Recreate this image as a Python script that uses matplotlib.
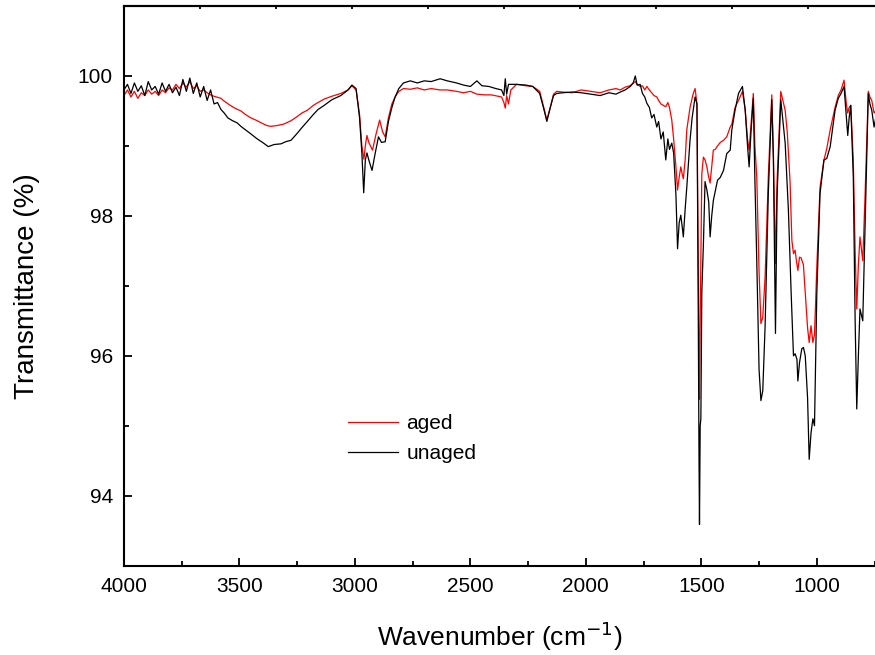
import matplotlib
matplotlib.use("Agg")
import matplotlib.pyplot as plt
from matplotlib.ticker import MultipleLocator

plt.rcParams['font.family'] = ['Liberation Sans', 'DejaVu Sans']

# ---------------- data ----------------
unaged_wn = [4000, 3985, 3970, 3955, 3940, 3925, 3910, 3895, 3880, 3865, 3850, 3835, 3820, 3805,
             3790, 3775, 3760, 3745, 3730, 3715, 3700, 3685, 3670, 3655, 3640, 3625, 3610, 3595,
             3580, 3566, 3550, 3530, 3510, 3494, 3470, 3450, 3423, 3400, 3375, 3350, 3320, 3300,
             3277, 3250, 3230, 3206, 3180, 3160, 3133, 3100, 3061, 3030, 3013, 2995, 2980, 2970,
             2962, 2955, 2948, 2940, 2926, 2912, 2898, 2885, 2869, 2855, 2840, 2826, 2810, 2790,
             2760, 2730, 2700, 2670, 2631, 2600, 2560, 2530, 2500, 2472, 2450, 2420, 2390, 2365,
             2355, 2349, 2343, 2335, 2300, 2260, 2230, 2200, 2180, 2169, 2158, 2140, 2126, 2100,
             2060, 2020, 1980, 1938, 1900, 1870, 1851, 1830, 1808, 1795, 1786, 1778, 1765, 1755,
             1745, 1736, 1725, 1715, 1705, 1693, 1685, 1675, 1665, 1654, 1645, 1638, 1628, 1620,
             1610, 1603, 1596, 1589, 1583, 1578, 1570, 1563, 1555, 1549, 1540, 1527, 1519, 1514,
             1510, 1508, 1505, 1502, 1498, 1491, 1484, 1476, 1468, 1462, 1455, 1448, 1440, 1430,
             1418, 1404, 1390, 1375, 1368, 1354, 1339, 1322, 1310, 1300, 1293, 1285, 1275, 1268,
             1260, 1250, 1242, 1234, 1224, 1210, 1195, 1188, 1179, 1172, 1156, 1137, 1123, 1111,
             1101, 1094, 1086, 1082, 1075, 1065, 1058, 1050, 1040, 1033, 1025, 1017, 1010, 1000,
             986, 969, 957, 942, 921, 907, 895, 882, 872, 866, 860, 853, 842, 834, 827, 820, 813,
             801, 791, 777, 770, 762, 752, 745]
unaged_T = [99.80, 99.88, 99.75, 99.90, 99.78, 99.86, 99.72, 99.92, 99.80, 99.85, 99.74, 99.90, 99.78, 99.88,
            99.76, 99.84, 99.72, 99.95, 99.78, 99.97, 99.75, 99.90, 99.70, 99.85, 99.65, 99.80, 99.60, 99.62,
            99.52, 99.47, 99.40, 99.36, 99.33, 99.28, 99.22, 99.17, 99.10, 99.05, 98.99, 99.02, 99.03, 99.06,
            99.08, 99.18, 99.26, 99.35, 99.45, 99.52, 99.58, 99.66, 99.72, 99.80, 99.87, 99.82, 99.40, 98.90,
            98.33, 98.80, 98.90, 98.80, 98.65, 98.90, 99.13, 99.05, 99.06, 99.35, 99.55, 99.70, 99.82, 99.90,
            99.93, 99.90, 99.93, 99.92, 99.96, 99.93, 99.90, 99.87, 99.85, 99.93, 99.86, 99.85, 99.82, 99.80,
            99.72, 99.96, 99.74, 99.88, 99.88, 99.87, 99.85, 99.75, 99.50, 99.35, 99.50, 99.72, 99.75, 99.76,
            99.77, 99.76, 99.74, 99.72, 99.76, 99.74, 99.77, 99.80, 99.85, 99.90, 100.0, 99.87, 99.88, 99.75,
            99.70, 99.61, 99.55, 99.40, 99.45, 99.27, 99.35, 99.10, 99.20, 98.80, 99.10, 98.95, 99.04, 98.90,
            98.30, 97.53, 97.90, 98.01, 97.85, 97.70, 98.10, 98.41, 98.80, 99.08, 99.40, 99.70, 99.60, 97.00,
            94.50, 93.59, 95.00, 95.10, 96.90, 97.60, 98.49, 98.37, 98.20, 97.70, 98.00, 98.22, 98.35, 98.51,
            98.55, 98.65, 98.89, 98.94, 99.23, 99.51, 99.75, 99.85, 99.51, 99.00, 98.70, 99.20, 99.68, 98.50,
            97.36, 95.80, 95.36, 95.50, 96.41, 98.32, 99.66, 98.80, 96.32, 98.30, 99.66, 99.04, 98.08, 96.89,
            96.00, 96.03, 95.95, 95.64, 95.90, 96.10, 96.12, 96.00, 95.40, 94.52, 94.90, 95.10, 95.00, 96.89,
            98.32, 98.80, 98.82, 98.99, 99.51, 99.68, 99.75, 99.85, 99.40, 99.15, 99.40, 99.58, 98.56, 96.50,
            95.24, 96.00, 96.67, 96.50, 97.84, 99.75, 99.60, 99.51, 99.27, 99.40]

aged_wn = [4000, 3985, 3970, 3955, 3940, 3925, 3910, 3895, 3880, 3865, 3850, 3835, 3820, 3805,
           3790, 3775, 3760, 3745, 3730, 3715, 3700, 3685, 3670, 3655, 3640, 3620, 3600, 3580,
           3566, 3540, 3520, 3494, 3470, 3450, 3423, 3400, 3380, 3364, 3340, 3310, 3277, 3250,
           3230, 3206, 3180, 3160, 3133, 3100, 3061, 3030, 3013, 2995, 2980, 2970, 2961, 2955,
           2948, 2940, 2924, 2910, 2893, 2880, 2869, 2855, 2840, 2826, 2810, 2790, 2760, 2730,
           2700, 2670, 2631, 2600, 2560, 2530, 2500, 2472, 2440, 2410, 2380, 2365, 2355, 2349,
           2343, 2335, 2325, 2300, 2260, 2230, 2200, 2180, 2169, 2158, 2140, 2126, 2100, 2060,
           2020, 1980, 1938, 1900, 1870, 1851, 1830, 1808, 1795, 1786, 1778, 1765, 1755, 1745,
           1736, 1725, 1715, 1705, 1693, 1685, 1675, 1665, 1654, 1645, 1638, 1628, 1620, 1610,
           1603, 1596, 1589, 1583, 1578, 1570, 1563, 1549, 1535, 1527, 1519, 1514, 1510, 1508,
           1505, 1498, 1491, 1484, 1476, 1468, 1462, 1455, 1448, 1440, 1430, 1418, 1404, 1390,
           1375, 1368, 1354, 1339, 1322, 1310, 1300, 1293, 1285, 1275, 1268, 1260, 1250, 1242,
           1234, 1224, 1210, 1195, 1188, 1179, 1172, 1156, 1137, 1128, 1116, 1108, 1101, 1094,
           1088, 1082, 1075, 1068, 1058, 1050, 1040, 1033, 1025, 1017, 1010, 1000, 986, 969,
           957, 942, 921, 907, 895, 882, 872, 866, 860, 853, 842, 834, 827, 820, 813, 801, 791,
           777, 770, 762, 752, 745]
aged_T = [99.72, 99.80, 99.70, 99.78, 99.68, 99.76, 99.72, 99.80, 99.74, 99.78, 99.72, 99.80, 99.76, 99.83,
          99.80, 99.88, 99.82, 99.90, 99.84, 99.92, 99.82, 99.86, 99.78, 99.80, 99.76, 99.72, 99.70, 99.68,
          99.64, 99.58, 99.54, 99.50, 99.44, 99.40, 99.36, 99.32, 99.29, 99.28, 99.29, 99.31, 99.36, 99.42,
          99.47, 99.51, 99.58, 99.62, 99.67, 99.71, 99.75, 99.80, 99.86, 99.80, 99.45, 99.00, 98.81, 99.00,
          99.15, 99.05, 98.94, 99.15, 99.37, 99.20, 99.13, 99.40, 99.60, 99.70, 99.78, 99.82, 99.81, 99.83,
          99.80, 99.82, 99.80, 99.80, 99.78, 99.76, 99.78, 99.74, 99.73, 99.73, 99.71, 99.70, 99.62, 99.54,
          99.72, 99.60, 99.80, 99.88, 99.86, 99.85, 99.78, 99.52, 99.37, 99.50, 99.74, 99.78, 99.77, 99.76,
          99.80, 99.78, 99.76, 99.80, 99.82, 99.80, 99.84, 99.86, 99.90, 99.92, 99.88, 99.85, 99.86, 99.80,
          99.85, 99.80, 99.76, 99.72, 99.70, 99.65, 99.60, 99.58, 99.56, 99.62, 99.55, 99.37, 99.10, 98.70,
          98.37, 98.55, 98.70, 98.60, 98.53, 98.80, 99.23, 99.55, 99.75, 99.82, 99.60, 97.50, 96.00, 95.38,
          96.50, 98.60, 98.84, 98.80, 98.70, 98.55, 98.47, 98.70, 98.94, 98.95, 99.00, 99.05, 99.08, 99.13,
          99.27, 99.31, 99.55, 99.65, 99.78, 99.51, 99.10, 98.94, 99.30, 99.75, 99.00, 98.56, 97.20, 96.46,
          96.55, 97.12, 98.56, 99.73, 98.90, 97.32, 98.50, 99.78, 99.51, 99.20, 98.50, 97.65, 97.46, 97.51,
          97.35, 97.22, 97.41, 97.40, 97.30, 96.89, 96.40, 96.19, 96.43, 96.19, 96.30, 97.27, 98.41, 98.80,
          98.96, 99.23, 99.55, 99.72, 99.80, 99.94, 99.60, 99.47, 99.55, 99.58, 98.80, 97.50, 96.67, 97.30,
          97.70, 97.36, 98.30, 99.78, 99.70, 99.65, 99.47, 99.50]

series_labels = ["aged", "unaged"]
x_label = "Wavenumber (cm$^{-1}$)"
y_label = "Transmittance (%)"

# ---------------- figure ----------------
fig = plt.figure(figsize=(8.75, 6.55), dpi=100)
ax = fig.add_axes([124 / 875, 1 - 565.7 / 655, 1 - 124 / 875, (565.7 - 6) / 655])

ax.plot(aged_wn, aged_T, color='#ff0000', lw=0.9, label=series_labels[0])
ax.plot(unaged_wn, unaged_T, color='#000000', lw=0.9, label=series_labels[1])

ax.set_xlim(4000, 748)
ax.set_ylim(93, 101)

ax.xaxis.set_major_locator(MultipleLocator(500))
ax.xaxis.set_minor_locator(MultipleLocator(250))
ax.yaxis.set_major_locator(MultipleLocator(2))
ax.yaxis.set_minor_locator(MultipleLocator(1))

ax.tick_params(which='both', direction='in', top=False, right=False, labelsize=15, width=1.3)
ax.tick_params(which='major', length=6, pad=8)
ax.tick_params(which='minor', length=3.5)
for side in ['left', 'bottom', 'top']:
    ax.spines[side].set_linewidth(1.5)
ax.spines['right'].set_visible(False)

top = ax.secondary_xaxis('top')
top.set_xticks([4000 - 329 * k for k in range(10)])
top.set_xticklabels([])
top.tick_params(direction='in', length=2.5, width=1.3)
top.spines['top'].set_linewidth(1.5)

ax.set_xlabel(x_label, fontsize=19, labelpad=17)
ax.set_ylabel(y_label, fontsize=20, labelpad=27)

leg = ax.legend(loc='upper left', bbox_to_anchor=(348 / 875, 1 - 414 / 655),
                bbox_transform=fig.transFigure, frameon=False, fontsize=15,
                handlelength=2.4, handletextpad=0.4, labelspacing=0.55,
                borderpad=0, borderaxespad=0)

fig.savefig('out.png', dpi=100)
